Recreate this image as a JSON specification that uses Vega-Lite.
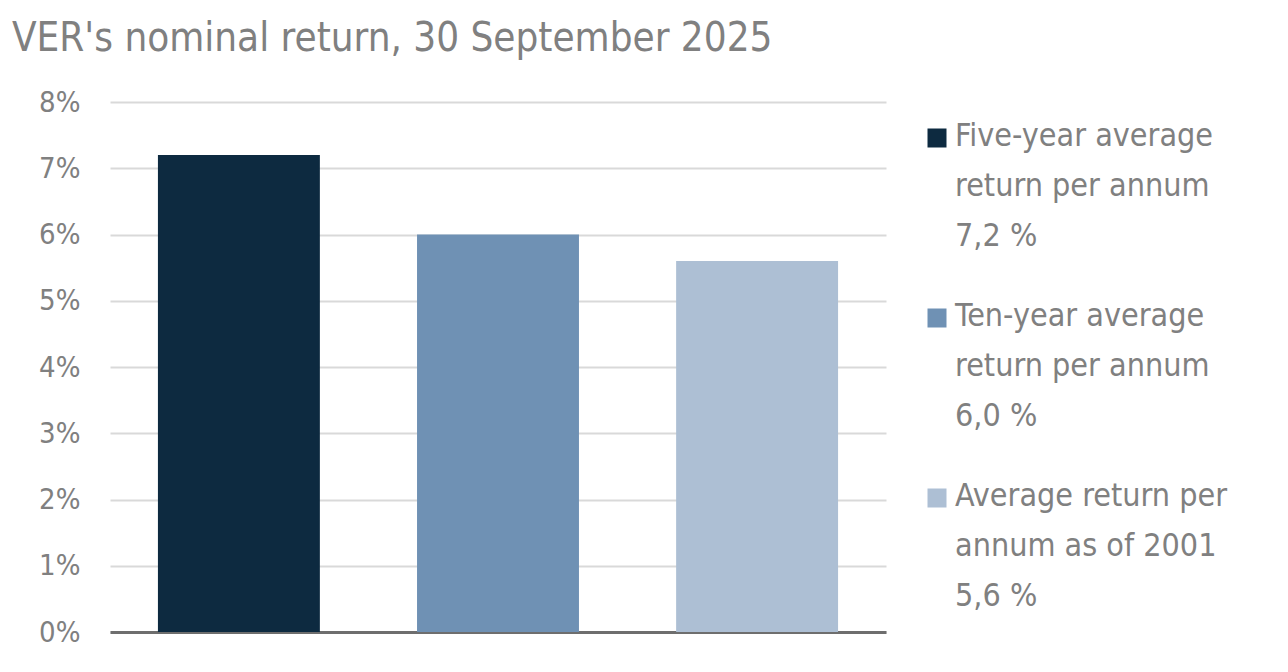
{
  "$schema": "https://vega.github.io/schema/vega-lite/v6.json",
  "width": 776,
  "height": 530,
  "autosize": "none",
  "padding": {"left": 110, "top": 102, "right": 402, "bottom": 40},
  "title": {
    "text": "VER's nominal return, 30 September 2025",
    "anchor": "start",
    "frame": "group",
    "dx": -98,
    "offset": 29,
    "fontSize": 40,
    "font": "DejaVu Sans Condensed, Liberation Sans Narrow, Roboto",
    "fontWeight": "normal",
    "color": "#808080"
  },
  "data": {
    "values": [
      {"series": "Five-year average|return per annum|7,2 %", "value": 0.072},
      {"series": "Ten-year average|return per annum|6,0 %", "value": 0.060},
      {"series": "Average return per|annum as of 2001|5,6 %", "value": 0.056}
    ]
  },
  "mark": {"type": "bar"},
  "encoding": {
    "x": {
      "field": "series",
      "type": "nominal",
      "sort": null,
      "scale": {"paddingInner": 0.375, "paddingOuter": 0.185},
      "axis": {
        "title": null,
        "labels": false,
        "ticks": false,
        "domainColor": "#6e6e6e",
        "domainWidth": 3
      }
    },
    "y": {
      "field": "value",
      "type": "quantitative",
      "scale": {"domain": [0, 0.08]},
      "axis": {
        "title": null,
        "format": ".0%",
        "values": [0, 0.01, 0.02, 0.03, 0.04, 0.05, 0.06, 0.07, 0.08],
        "domain": false,
        "ticks": false,
        "labelPadding": 30,
        "labelFontSize": 29,
        "labelFont": "DejaVu Sans Condensed, Liberation Sans Narrow, Roboto",
        "labelColor": "#808080",
        "gridColor": "#d9d9d9",
        "gridWidth": 2
      }
    },
    "color": {
      "field": "series",
      "type": "nominal",
      "sort": null,
      "scale": {"range": ["#0d2a40", "#6f91b4", "#adbfd4"]},
      "legend": {
        "title": null,
        "orient": "none",
        "legendX": 811,
        "legendY": 20,
        "symbolType": "square",
        "symbolSize": 361,
        "symbolStrokeWidth": 0,
        "symbolOpacity": 1,
        "labelExpr": "split(datum.label, '|')",
        "labelFontSize": 32,
        "labelFont": "DejaVu Sans Condensed, Liberation Sans Narrow, Roboto",
        "labelColor": "#808080",
        "labelBaseline": "top",
        "labelOffset": 2,
        "labelLimit": 400,
        "rowPadding": 48,
        "encode": {
          "labels": {
            "update": {
              "lineHeight": {"value": 50},
              "dy": {"value": -17}
            }
          }
        }
      }
    }
  },
  "config": {
    "view": {"stroke": null},
    "background": "#ffffff"
  }
}
